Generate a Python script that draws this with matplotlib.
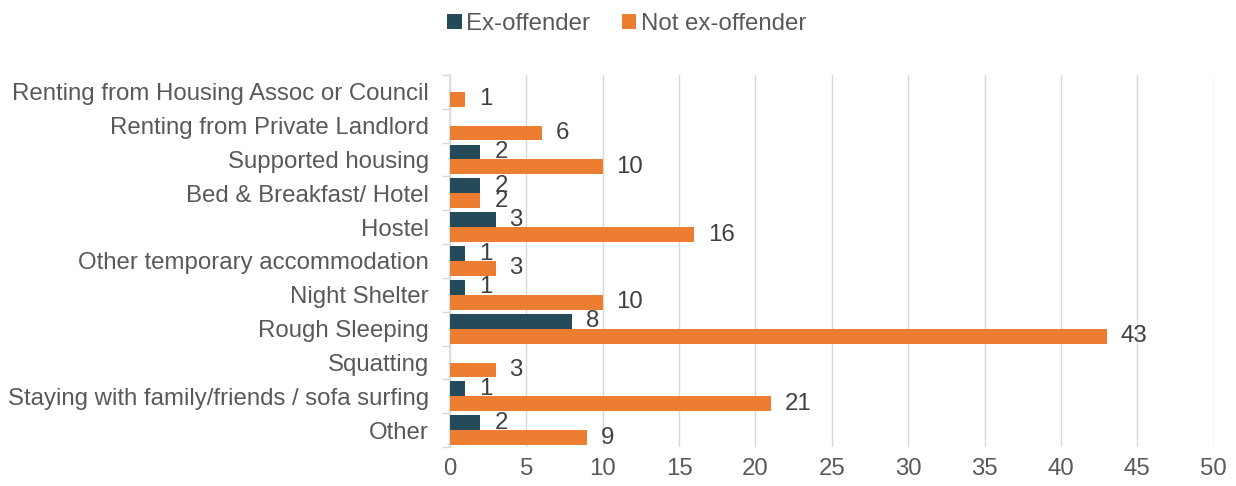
import numpy as np
import matplotlib.pyplot as plt

plt.rcParams['font.family'] = ['Liberation Sans', 'DejaVu Sans']

# Categories top to bottom as shown in the chart
categories = [
    'Renting from Housing Assoc or Council',
    'Renting from Private Landlord',
    'Supported housing',
    'Bed & Breakfast/ Hotel',
    'Hostel',
    'Other temporary accommodation',
    'Night Shelter',
    'Rough Sleeping',
    'Squatting',
    'Staying with family/friends / sofa surfing',
    'Other',
]
ex_offender = [None, None, 2, 2, 3, 1, 1, 8, None, 1, 2]
not_ex_offender = [1, 6, 10, 2, 16, 3, 10, 43, 3, 21, 9]

dark = '#254a59'
orange = '#ed7d31'
text_col = '#595959'
grid_col = '#d9d9d9'
fs = 17.3

fig = plt.figure(figsize=(12.36, 4.86), dpi=100)
ax = fig.add_axes([0.364, 0.080, 0.618, 0.766])

y = np.arange(len(categories))
h = 0.44
ex_vals = [v if v is not None else 0 for v in ex_offender]

ax.barh(y - h / 2, ex_vals, height=h, color=dark, label='Ex-offender', zorder=3)
ax.barh(y + h / 2, not_ex_offender, height=h, color=orange, label='Not ex-offender', zorder=3)

# value labels
for i, v in enumerate(ex_offender):
    if v is not None:
        ax.annotate(str(v), (v, y[i] - h / 2), xytext=(10, 0), textcoords='offset points',
                    va='center', ha='left', fontsize=fs, color='#404040')
for i, v in enumerate(not_ex_offender):
    ax.annotate(str(v), (v, y[i] + h / 2), xytext=(10, 0), textcoords='offset points',
                va='center', ha='left', fontsize=fs, color='#404040')

ax.set_ylim(len(categories) - 0.5, -0.5)
ax.set_xlim(0, 50)
ax.set_xticks(np.arange(0, 51, 5))
ax.set_yticks(y)
ax.set_yticklabels(categories)
ax.set_yticks(np.arange(-0.5, len(categories), 1), minor=True)

ax.tick_params(axis='y', which='major', length=0, pad=15, labelsize=fs, labelcolor=text_col)
ax.tick_params(axis='y', which='minor', length=6, color=grid_col, width=1)
ax.tick_params(axis='x', length=0, pad=8, labelsize=fs, labelcolor=text_col)

ax.grid(axis='x', color=grid_col, linewidth=1, zorder=0)
for s in ['top', 'right', 'bottom']:
    ax.spines[s].set_visible(False)
ax.spines['left'].set_color(grid_col)
ax.spines['left'].set_linewidth(1.2)

fig.legend(loc='center', bbox_to_anchor=(0.507, 0.950), ncol=2, frameon=False,
           fontsize=fs, labelcolor=text_col, handlelength=0.6, handleheight=0.6,
           handletextpad=0.2, columnspacing=1.3)

fig.savefig('out.png', dpi=100)
